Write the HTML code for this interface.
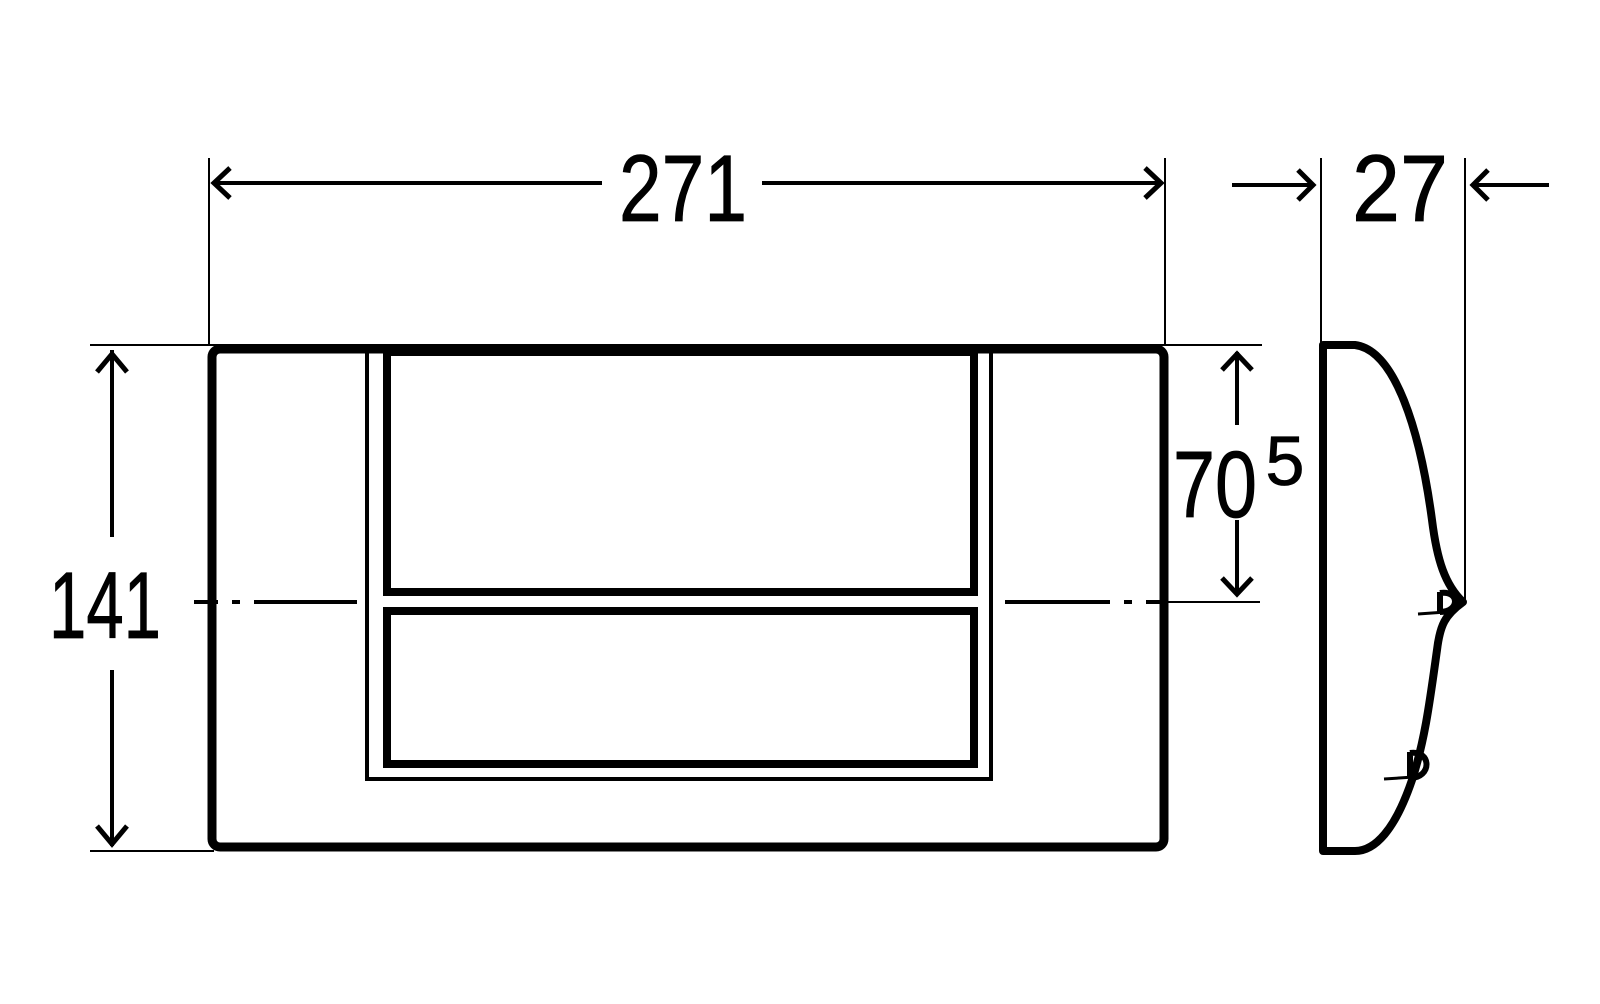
<!DOCTYPE html>
<html><head><meta charset="utf-8"><style>
html,body{margin:0;padding:0;background:#fff;}
svg{display:block;}
text{font-family:"Liberation Sans",sans-serif;fill:#000;stroke:#000;stroke-width:0.8;}
</style></head><body>
<svg width="1600" height="1004" viewBox="0 0 1600 1004" xmlns="http://www.w3.org/2000/svg">
<g stroke="#000" fill="none" stroke-linecap="butt">
<line x1="90" y1="345" x2="1262" y2="345" stroke-width="2"/>
<line x1="90" y1="851" x2="214" y2="851" stroke-width="2"/>
<line x1="209" y1="158" x2="209" y2="345" stroke-width="2"/>
<line x1="1165" y1="158" x2="1165" y2="345" stroke-width="2"/>
<line x1="1321" y1="158" x2="1321" y2="345" stroke-width="2"/>
<line x1="1465" y1="158" x2="1465" y2="602" stroke-width="2"/>
<line x1="1165" y1="602" x2="1260" y2="602" stroke-width="2"/>
<line x1="214" y1="183" x2="602" y2="183" stroke-width="4"/>
<line x1="762" y1="183" x2="1160" y2="183" stroke-width="4"/>
<polyline points="230,168 214,183 230,198" stroke-width="5"/>
<polyline points="1145,168 1161,183 1145,198" stroke-width="5"/>
<line x1="112" y1="350" x2="112" y2="537" stroke-width="4"/>
<line x1="112" y1="670" x2="112" y2="846" stroke-width="4"/>
<polyline points="97,372 112,354 127,372" stroke-width="5"/>
<polyline points="97,826 112,844 127,826" stroke-width="5"/>
<g stroke-width="4">
<line x1="194" y1="602" x2="218" y2="602"/><line x1="232" y1="602" x2="240" y2="602"/><line x1="254" y1="602" x2="357" y2="602"/>
<line x1="1005" y1="602" x2="1110" y2="602"/><line x1="1124" y1="602" x2="1132" y2="602"/><line x1="1146" y1="602" x2="1165" y2="602"/>
</g>
<line x1="1237" y1="352" x2="1237" y2="425" stroke-width="4"/>
<line x1="1237" y1="520" x2="1237" y2="595" stroke-width="4"/>
<polyline points="1222,370 1237,354 1252,370" stroke-width="5"/>
<polyline points="1222,578 1237,594 1252,578" stroke-width="5"/>
<line x1="1232" y1="185" x2="1313" y2="185" stroke-width="4"/>
<polyline points="1298,170 1313,185 1298,200" stroke-width="5"/>
<line x1="1473" y1="185" x2="1549" y2="185" stroke-width="4"/>
<polyline points="1488,170 1473,185 1488,200" stroke-width="5"/>
<rect x="212" y="349" width="952" height="498" rx="8" stroke-width="9"/>
<rect x="367" y="350" width="624" height="429" stroke-width="4"/>
<rect x="387" y="352" width="587" height="240" stroke-width="8"/>
<rect x="387" y="611" width="587" height="153" stroke-width="8"/>
<path d="M1355,345 C1395,350 1420,430 1432,520 C1437,560 1445,585 1463,602 C1445,615 1440,625 1437,650 C1430,700 1425,740 1412,780 C1395,830 1375,851 1355,851 L1323,851 L1323,345 Z" stroke-width="8" stroke-linejoin="round"/>
<path d="M1440,592 L1440,612 M1440,593 C1460,590 1460,612 1440,612" stroke-width="6"/>
<line x1="1418" y1="614" x2="1446" y2="612" stroke-width="3"/>
<path d="M1410,752 L1410,778 M1410,753 C1432,750 1432,778 1410,778" stroke-width="6"/>
<line x1="1384" y1="779" x2="1414" y2="777" stroke-width="3"/>
</g>
<text x="683" y="221" font-size="95" text-anchor="middle" textLength="128" lengthAdjust="spacingAndGlyphs">271</text>
<text x="105" y="638" font-size="95" text-anchor="middle" textLength="112" lengthAdjust="spacingAndGlyphs">141</text>
<text x="1400" y="221" font-size="95" text-anchor="middle" textLength="96" lengthAdjust="spacingAndGlyphs">27</text>
<text x="1215" y="517" font-size="95" text-anchor="middle" textLength="84" lengthAdjust="spacingAndGlyphs">70</text>
<text x="1285" y="485" font-size="70" text-anchor="middle">5</text>
</svg>
</body></html>
